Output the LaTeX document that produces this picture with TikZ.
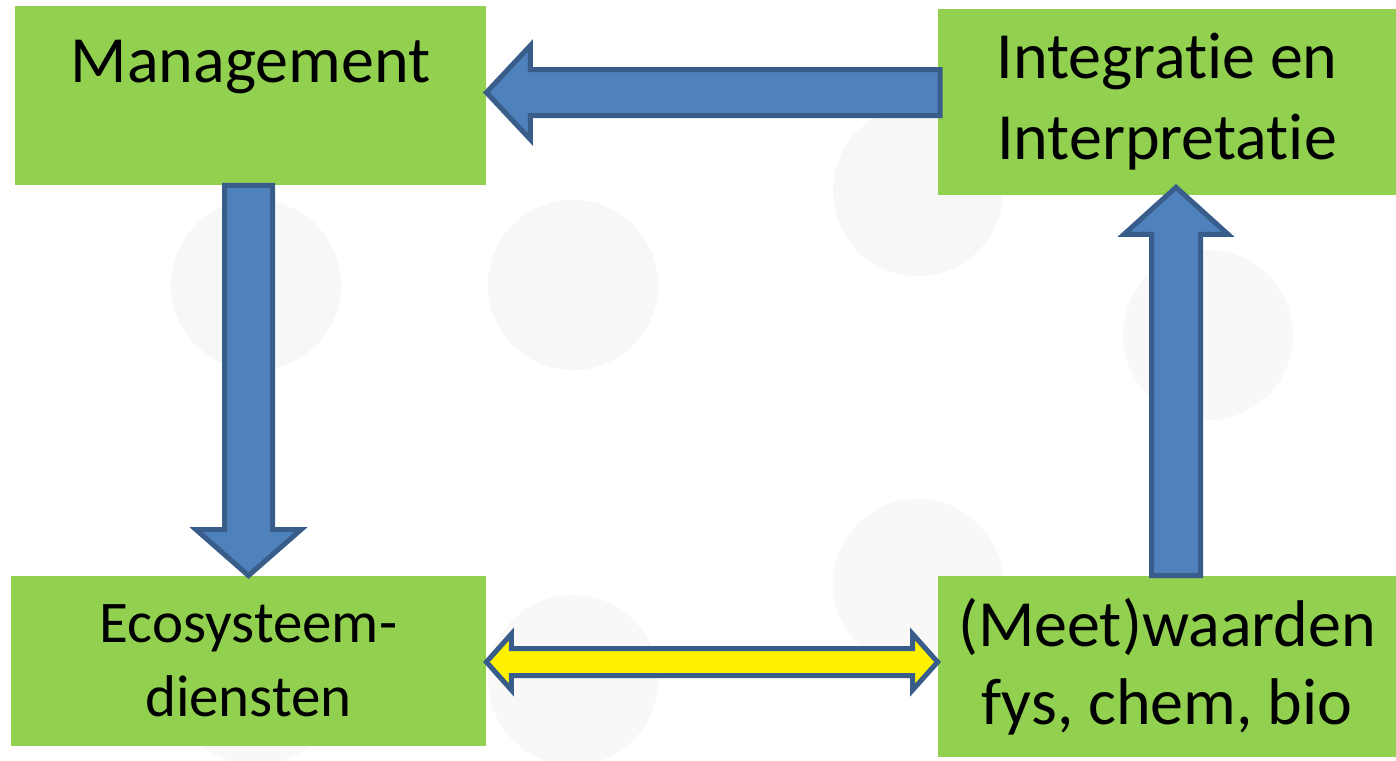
\documentclass[tikz,border=0pt]{standalone}
\usepackage{fontspec}
\setmainfont{Carlito}[Ligatures=NoCommon]
\usetikzlibrary{calc}
\usetikzlibrary{positioning}

\definecolor{boxgreen}{HTML}{92D050}
\definecolor{arrowblue}{HTML}{4F81BD}
\definecolor{arrowline}{HTML}{385D8A}
\definecolor{dotgreen}{HTML}{F5F8F7}
\definecolor{dotgrey}{HTML}{F9F8F7}

% block arrow: [style]{from}{to}{half shaft}{half head}{head length}
\newcommand{\blockarrow}[6][]{%
    \coordinate (ba-s) at (#2);
    \coordinate (ba-t) at (#3);
    \coordinate (ba-h) at ($(ba-t)!#6!(ba-s)$);
    \filldraw[barrow,#1] ($(ba-s)!#4!90:(ba-t)$) -- ($(ba-h)!#4!90:(ba-t)$)
        -- ($(ba-h)!#5!90:(ba-t)$) -- (ba-t) -- ($(ba-h)!#5!-90:(ba-t)$)
        -- ($(ba-h)!#4!-90:(ba-t)$) -- ($(ba-s)!#4!-90:(ba-t)$) -- cycle;
}
% same, with a head at both ends
\newcommand{\dblarrow}[6][]{%
    \coordinate (da-l) at (#2);
    \coordinate (da-r) at (#3);
    \coordinate (da-hl) at ($(da-l)!#6!(da-r)$);
    \coordinate (da-hr) at ($(da-r)!#6!(da-l)$);
    \filldraw[barrow,#1] (da-l) -- ($(da-hl)!#5!90:(da-r)$) -- ($(da-hl)!#4!90:(da-r)$)
        -- ($(da-hr)!#4!-90:(da-l)$) -- ($(da-hr)!#5!-90:(da-l)$) -- (da-r)
        -- ($(da-hr)!#5!90:(da-l)$) -- ($(da-hr)!#4!90:(da-l)$)
        -- ($(da-hl)!#4!-90:(da-r)$) -- ($(da-hl)!#5!-90:(da-r)$) -- cycle;
}
% t and i kept apart
\newcommand{\ti}{t\kern0pt i}

\tikzset{
    box/.style={fill=boxgreen, inner sep=0pt, align=center, text=black},
    barrow/.style={fill=arrowblue, draw=arrowline, line width=2.5pt, line join=miter},
    yarrow/.style={fill=yellow},
    dot/.style={fill=#1}
}

\begin{document}
\begin{tikzpicture}[x=0.5pt, y=-0.5pt]
    \fill[white] (0,0) rectangle (1396,760);
    \useasboundingbox (0,0) rectangle (1396,760);

    % pale discs in the back
    \fill[dot=dotgreen] (256,285) circle[radius=42.5pt];
    \fill[dot=dotgreen] (573,285) circle[radius=42.5pt];
    \fill[dot=dotgreen] (918,191) circle[radius=42.5pt];
    \fill[dot=dotgrey] (1208,335) circle[radius=42.5pt];
    \fill[dot=dotgrey] (918,584) circle[radius=42.5pt];
    \fill[dot=dotgrey] (573,680) circle[radius=42.5pt];
    \fill[dot=dotgrey] (256,680) circle[radius=42.5pt];

    \node[box, minimum width=235.5pt, text height=38pt, text depth=51.5pt,
        font=\fontsize{33}{40}\selectfont] (mgmt) at (250.5,95.5) {Management};
    \node[box, minimum width=229pt, minimum height=93pt,
        font=\fontsize{33}{40.5}\selectfont] (integ) at (1167,101.5) {Integra\ti e en\\Interpreta\ti e};
    \node[box, minimum width=237.5pt, minimum height=85pt,
        font=\fontsize{29.5}{37}\selectfont] (eco) at (248.5,661) {Ecosysteem-\\diensten};
    \node[box, minimum width=229pt, minimum height=90.5pt,
        font=\fontsize{33}{39}\selectfont] (meet) at (1167,666.5) {(Meet)waarden\\fys, chem, bio};

    \coordinate (ecoR) at ([yshift=-0.5pt]eco.east);
    \coordinate (meetL) at (ecoR -| meet.west);

    \blockarrow{[xshift=1.25pt,yshift=4.5pt]integ.west}{[yshift=1.5pt]mgmt.east}{11.5pt}{23.5pt}{22pt}
    \blockarrow{eco.north |- mgmt.south}{eco.north}{12pt}{26.25pt}{23pt}
    \blockarrow{[xshift=4.5pt]meet.north}{[xshift=4.5pt,yshift=3.8pt]integ.south}{12.25pt}{26pt}{23.5pt}
    \dblarrow[yarrow]{ecoR}{meetL}{6.75pt}{14pt}{12.5pt}
\end{tikzpicture}
\end{document}
